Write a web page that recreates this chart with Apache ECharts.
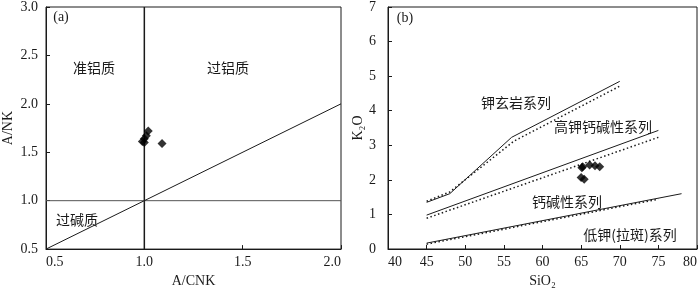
<!DOCTYPE html>
<html><head><meta charset="utf-8">
<script src="https://cdn.jsdelivr.net/npm/echarts@6/dist/echarts.min.js"></script>
<style>html,body{margin:0;padding:0;background:#fff}#c{width:700px;height:293px}</style>
</head><body><div id="c"></div>
<script>
// ---- Panel (a) data ----
const aTicksX = [0.5, 1.0, 1.5, 2.0];
const aTicksY = [0.5, 1.0, 1.5, 2.0, 2.5, 3.0];
const aSamples = [[1.00, 1.60], [0.99, 1.61], [1.00, 1.64], [1.01, 1.67], [1.02, 1.72], [1.09, 1.59]];
const aLineVertical = [[1.0, 0.5], [1.0, 3.0]];
const aLineHorizontal = [[0.5, 1.0], [2.0, 1.0]];
const aLineDiagonal = [[0.5, 0.5], [2.0, 2.0]];
const aRegionLabels = ['准铝质', '过铝质', '过碱质'];

// ---- Panel (b) data ----
const bTicksX = [40, 45, 50, 55, 60, 65, 70, 75, 80];
const bTicksY = [0, 1, 2, 3, 4, 5, 6, 7];
const bSamples = [[65.1, 2.35], [65.2, 2.38], [66.1, 2.43], [66.8, 2.41], [67.4, 2.38], [65.0, 2.07], [65.4, 2.02]];
const bSolid1 = [[45, 1.35], [48, 1.60], [56, 3.23], [70, 4.85]];
const bDot1 = [[45, 1.38], [48, 1.65], [56.3, 3.12], [70, 4.71]];
const bSolid2 = [[45, 0.98], [75, 3.43]];
const bDot2 = [[45, 0.89], [75, 3.23]];
const bSolid3 = [[45, 0.17], [78, 1.60]];
const bDot3 = [[45, 0.14], [75, 1.44]];
const bSeriesLabels = ['钾玄岩系列', '高钾钙碱性系列', '钙碱性系列', '低钾(拉斑)系列'];

const SERIF = '"Liberation Serif","Times New Roman",serif';
const CJK = '"Noto Sans CJK SC","Noto Sans",sans-serif';
const ink = '#1a1a1a';

function axisCommon(extra) {
  return Object.assign({
    axisLine: {show: true, lineStyle: {color: ink, width: 1}},
    axisTick: {show: true, inside: true, length: 4, lineStyle: {color: ink}},
    splitLine: {show: false},
    axisLabel: {color: ink, fontSize: 14, fontFamily: SERIF},
    nameTextStyle: {color: ink, fontSize: 14, fontFamily: SERIF},
    nameLocation: 'middle'
  }, extra);
}

const chart = echarts.init(document.getElementById('c'), null, {renderer: 'canvas'});
function line(data, xi, yi, style) {
  return {type: 'line', xAxisIndex: xi, yAxisIndex: yi, data: data, symbol: 'none',
          silent: true, lineStyle: style, z: 2};
}
const solid = {color: ink, width: 1};
const dotted = {color: ink, width: 1.5, type: [1.5, 2.5]};

function txt(t, x, y, font) {
  return {type: 'text', x: x, y: y, silent: true,
          style: {text: t, fill: ink, font: font, align: 'center', verticalAlign: 'middle',
                  textAlign: 'center', textVerticalAlign: 'middle'}};
}

chart.setOption({
  animation: false,
  grid: [
    {left: 46, top: 1.5, width: 295, height: 253.5, show: true, borderColor: ink, borderWidth: 1, backgroundColor: 'transparent'},
    {left: 388, top: 3, width: 309, height: 253, show: true, borderColor: ink, borderWidth: 1, backgroundColor: 'transparent'}
  ],
  xAxis: [
    axisCommon({gridIndex: 0, type: 'value', min: aTicksX[0], max: aTicksX[aTicksX.length - 1], interval: 0.5,
      name: 'A/CNK', nameGap: 24,
      axisLabel: {color: ink, fontSize: 14, fontFamily: SERIF, margin: 6, formatter: v => v.toFixed(1),
                  alignMinLabel: 'left', alignMaxLabel: 'right'}}),
    axisCommon({gridIndex: 1, type: 'value', min: bTicksX[0], max: bTicksX[bTicksX.length - 1], interval: 5,
      name: 'SiO₂', nameGap: 25,
      axisLabel: {color: ink, fontSize: 14, fontFamily: SERIF, margin: 6,
                  alignMinLabel: 'left', alignMaxLabel: 'right'}})
  ],
  yAxis: [
    axisCommon({gridIndex: 0, type: 'value', min: aTicksY[0], max: aTicksY[aTicksY.length - 1], interval: 0.5,
      name: 'A/NK', nameGap: 31,
      axisLabel: {color: ink, fontSize: 14, fontFamily: SERIF, margin: 8, formatter: v => v.toFixed(1)}}),
    axisCommon({gridIndex: 1, type: 'value', min: bTicksY[0], max: bTicksY[bTicksY.length - 1], interval: 1,
      name: 'K₂O', nameGap: 18,
      axisLabel: {color: ink, fontSize: 14, fontFamily: SERIF, margin: 12}})
  ],
  series: [
    line(aLineVertical, 0, 0, {color: ink, width: 1.5}),
    line(aLineHorizontal, 0, 0, {color: '#555', width: 1}),
    line(aLineDiagonal, 0, 0, {color: ink, width: 1}),
    {type: 'scatter', xAxisIndex: 0, yAxisIndex: 0, data: aSamples, symbol: 'diamond', symbolSize: 9,
     itemStyle: {color: '#000'}, z: 5},
    line(bSolid1, 1, 1, solid),
    line(bDot1, 1, 1, dotted),
    line(bSolid2, 1, 1, solid),
    line(bDot2, 1, 1, dotted),
    line(bSolid3, 1, 1, solid),
    line(bDot3, 1, 1, dotted),
    {type: 'scatter', xAxisIndex: 1, yAxisIndex: 1, data: bSamples, symbol: 'diamond', symbolSize: 9,
     itemStyle: {color: '#000'}, z: 5}
  ],
  graphic: [
    txt('(a)', 61, 17, '14px ' + SERIF),
    txt(aRegionLabels[0], 94, 68, '14px ' + CJK),
    txt(aRegionLabels[1], 228, 68, '14px ' + CJK),
    txt(aRegionLabels[2], 77, 220, '14px ' + CJK),
    txt('(b)', 405, 18, '14px ' + SERIF),
    txt(bSeriesLabels[0], 516, 103, '14px ' + CJK),
    txt(bSeriesLabels[1], 603, 127, '14px ' + CJK),
    txt(bSeriesLabels[2], 567, 202, '14px ' + CJK),
    txt(bSeriesLabels[3], 630, 235, '14px ' + CJK)
  ]
});
</script></body></html>
